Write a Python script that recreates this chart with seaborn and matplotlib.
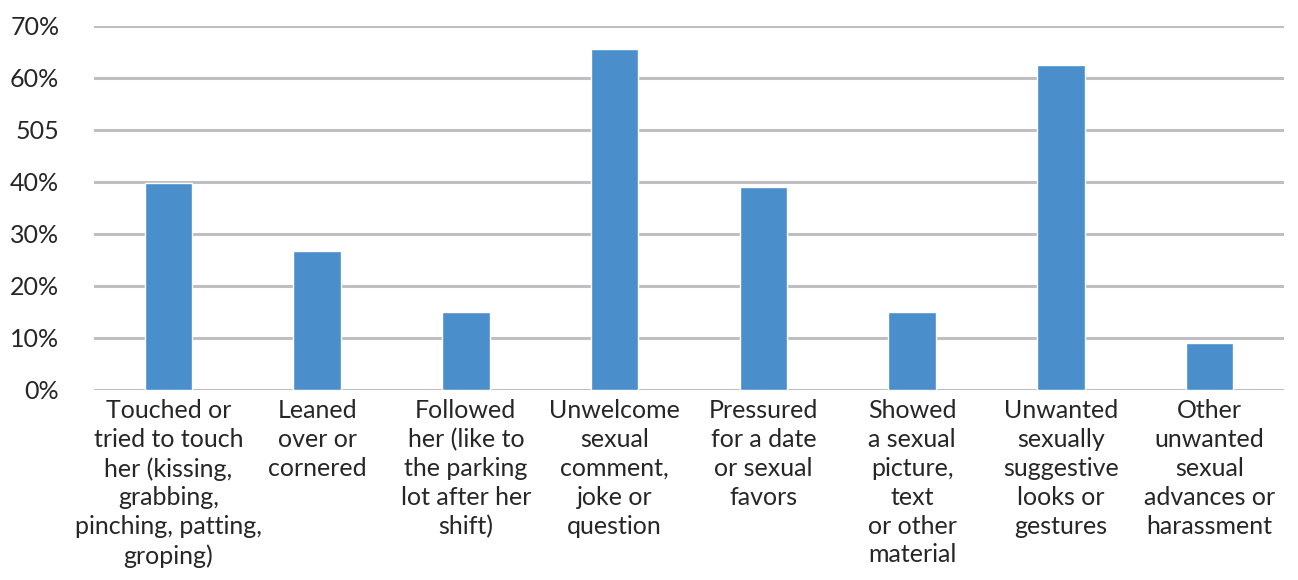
import matplotlib
matplotlib.use("Agg")
import matplotlib.pyplot as plt
import seaborn as sns
import pandas as pd

categories = [
    "Touched or\ntried to touch\nher (kissing,\ngrabbing,\npinching, patting,\ngroping)",
    "Leaned\nover or\ncornered",
    "Followed\nher (like to\nthe parking\nlot after her\nshift)",
    "Unwelcome\nsexual\ncomment,\njoke or\nquestion",
    "Pressured\nfor a date\nor sexual\nfavors",
    "Showed\na sexual\npicture,\ntext\nor other\nmaterial",
    "Unwanted\nsexually\nsuggestive\nlooks or\ngestures",
    "Other\nunwanted\nsexual\nadvances or\nharassment",
]
values = [39.7, 26.6, 15.0, 65.5, 38.9, 15.0, 62.5, 9.1]
tick_values = [0, 10, 20, 30, 40, 50, 60, 70]
tick_labels = ["0%", "10%", "20%", "30%", "40%", "505", "60%", "70%"]

df = pd.DataFrame({"category": categories, "value": values})

sns.set_theme(style="white")
plt.rcParams["font.family"] = ["Lato", "DejaVu Sans"]

fig = plt.figure(figsize=(12.98, 5.8), dpi=100)
ax = fig.add_axes([0.0724, 0.3276, 0.9168, 0.6284])

sns.barplot(data=df, x="category", y="value", color="#4A8ECC", saturation=1,
            width=0.32, ax=ax, zorder=3)

ax.set_ylim(0, 70)
ax.set_xlim(-0.5, len(categories) - 0.5)
ax.set_yticks(tick_values)
ax.set_yticklabels(tick_labels, fontsize=18, color="#262626")
ax.tick_params(axis="y", length=0, pad=25)
ax.tick_params(axis="x", length=0, pad=6.5)
for lab in ax.get_xticklabels():
    lab.set_fontsize(18)
    lab.set_color("#262626")
    lab.set_linespacing(1.31)
    lab.set_verticalalignment("top")
ax.set_xlabel("")
ax.set_ylabel("")
ax.grid(axis="y", color="#BFBFC3", linewidth=2.2, zorder=0)
for s in ax.spines.values():
    s.set_visible(False)

fig.savefig("out.png", dpi=100, facecolor="white")
